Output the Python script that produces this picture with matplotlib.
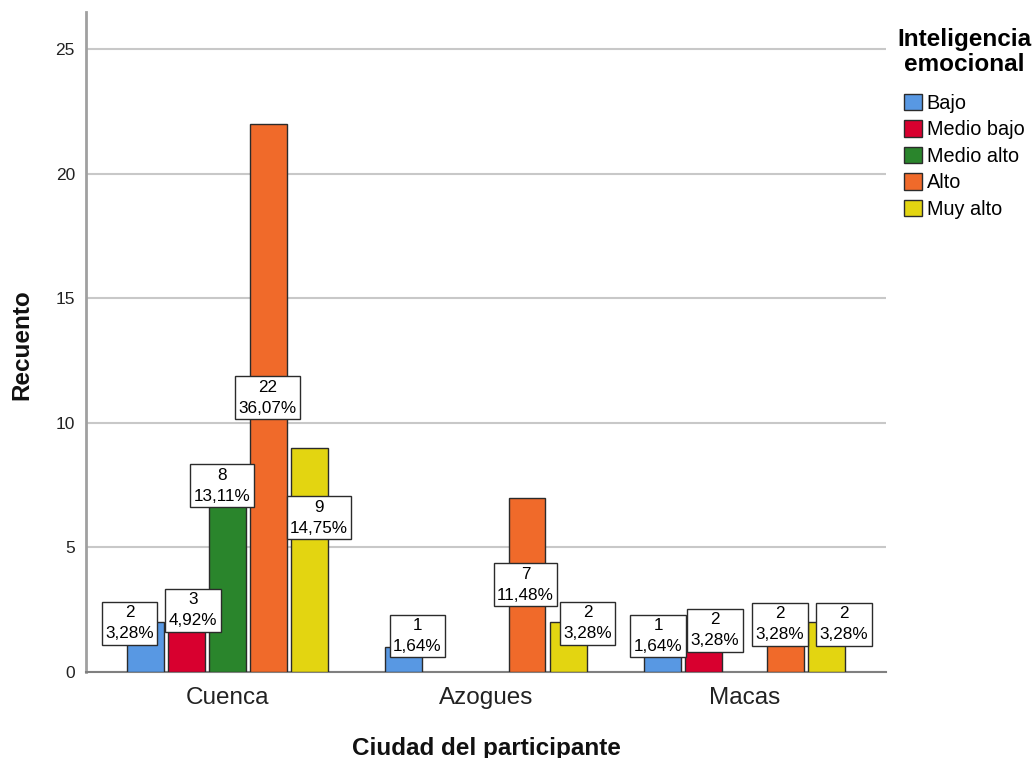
import matplotlib
matplotlib.use("Agg")
import matplotlib.pyplot as plt
from matplotlib.patches import Patch
import numpy as np

plt.rcParams['font.family'] = ['Liberation Sans', 'DejaVu Sans']

cities = ['Cuenca', 'Azogues', 'Macas']
levels = ['Bajo', 'Medio bajo', 'Medio alto', 'Alto', 'Muy alto']
bajo = [2, 1, 1]
medio_bajo = [3, 0, 2]
medio_alto = [8, 0, 0]
alto = [22, 7, 2]
muy_alto = [9, 2, 2]
series = [bajo, medio_bajo, medio_alto, alto, muy_alto]
colors = ['#5898E3', '#D8002F', '#2A852C', '#F06A2A', '#E3D511']
y_ticks = [0, 5, 10, 15, 20, 25]

total = sum(sum(s) for s in series)

# label offsets (pixels) relative to bar top-center, styling only
label_offsets = {
    (0, 0): (-16, -1), (1, 0): (6.5, -13), (2, 0): (-5.5, -13), (3, 0): (-0.5, -274), (4, 0): (9.5, -70),
    (0, 1): (13.5, 11), (3, 1): (-1.5, -87), (4, 1): (19.5, -1),
    (0, 2): (-4.5, 11), (1, 2): (11.5, -8), (3, 2): (-5.5, -2), (4, 2): (17.5, -2),
}

fig = plt.figure(figsize=(10.36, 7.58), dpi=100)
ax = fig.add_axes([86/1036, 86/758, 800/1036, 660/758])

x = np.arange(len(cities))
step = 0.1586
width = 0.143
for i, (s, c) in enumerate(zip(series, colors)):
    pos = x + (i - 2) * step
    vals = np.array(s, dtype=float)
    mask = vals > 0
    ax.bar(pos[mask], vals[mask], width=width, color=c, edgecolor='#2b2b2b', linewidth=1.0, zorder=3)
    for j, v in enumerate(s):
        if v <= 0:
            continue
        dx, dy = label_offsets.get((i, j), (0, 0))
        pct = f"{100 * v / total:.2f}".replace('.', ',') + '%'
        ax.annotate(f"{v}\n{pct}", xy=(pos[j], v), xytext=(dx, dy), textcoords='offset pixels',
                    ha='center', va='center', fontsize=12.3, linespacing=1.5, zorder=5,
                    bbox=dict(boxstyle='square,pad=0.2', fc='white', ec='#2b2b2b', lw=1.0))

ax.set_xlim(-0.547, 2.547)
ax.set_ylim(0, 26.48)
ax.set_yticks(y_ticks)
ax.set_yticklabels([str(t) for t in y_ticks], fontsize=12.5, color='#222222')
ax.set_xticks(x)
ax.set_xticklabels(cities, fontsize=17.5, color='#222222')
ax.tick_params(axis='y', length=0, pad=8)
ax.tick_params(axis='x', length=0, pad=11)
ax.yaxis.grid(True, color='#c8c8c8', linewidth=1.5, zorder=0)
ax.set_axisbelow(True)
for sp in ['top', 'right']:
    ax.spines[sp].set_visible(False)
ax.spines['left'].set_color('#a0a0a0')
ax.spines['left'].set_linewidth(2)
ax.spines['bottom'].set_color('#808080')
ax.spines['bottom'].set_linewidth(1.5)

fig.text(486/1036, 1 - 748/758, 'Ciudad del participante', ha='center', va='center',
         fontsize=17.5, fontweight='bold', color='#111111')
fig.text(22/1036, 1 - 345/758, 'Recuento', ha='center', va='center', rotation=90,
         fontsize=17.5, fontweight='bold', color='#111111')

handles = [Patch(facecolor=c, edgecolor='#2b2b2b', linewidth=1.0) for c in colors]
leg = fig.legend(handles, levels, loc='upper left', bbox_to_anchor=(897/1036, 1 - 28/758),
                 frameon=False, fontsize=14.3, title='Inteligencia\nemocional',
                 title_fontproperties={'size': 17.5, 'weight': 'bold'},
                 handlelength=0.9, handleheight=0.9, handletextpad=0.25,
                 labelspacing=0.37, borderaxespad=0, borderpad=0)
leg._legend_box.sep = 13
leg.get_title().set_linespacing(1.1)
leg.get_title().set_multialignment('center')

fig.savefig('out.png', dpi=100)
